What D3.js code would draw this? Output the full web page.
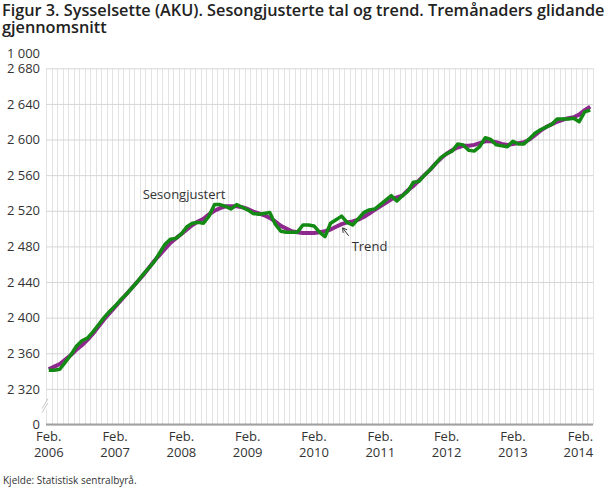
<!DOCTYPE html>
<html>
<head>
	<title>Sysselsette (AKU)</title>
	<meta charset='utf-8'>
	<style>
		body {
			margin: 0;
			background: #fff;
			font-family: 'Open Sans', sans-serif;
		}

		.title {
			font-size: 17px;
			font-weight: 600;
			fill: #222;
		}

		.tick > text {
			fill: #333;
			font-size: 13px;
		}

		.grid-v line {
			stroke: #e3e3e3;
			stroke-width: 1px;
		}

		.grid-h line {
			stroke: #d6d6d6;
			stroke-width: 1px;
		}

		.line {
			fill: none;
			stroke-linejoin: round;
		}

		.line__trend {
			stroke: #8d288d;
			stroke-width: 4px;
		}

		.line__sa {
			stroke: #138a13;
			stroke-width: 3.5px;
		}

		.label {
			font-size: 13px;
			fill: #333;
		}
	</style>
</head>
<body>

<script src='https://d3js.org/d3.v7.min.js'></script>
<script>
	'use strict';

	// Månader: feb. 2006 - apr. 2014
	const months = d3.timeMonth.range(new Date(2006, 1, 1), new Date(2014, 4, 1));

	// Sesongjusterte tal, 1 000 personar
	const sesongjustert = [
		2341, 2341, 2342, 2350, 2358, 2368, 2374, 2377, 2384, 2392,
		2400, 2407, 2413, 2420, 2426, 2433, 2440, 2448, 2455, 2462,
		2472, 2482, 2488, 2489, 2494, 2502, 2506, 2507, 2506, 2514,
		2527, 2527, 2525, 2522, 2527, 2524, 2521, 2517, 2516, 2517,
		2518, 2505, 2497, 2496, 2496, 2496, 2504, 2504, 2503, 2496,
		2491, 2506, 2510, 2514, 2507, 2504, 2511, 2518, 2521, 2522,
		2527, 2532, 2537, 2531, 2537, 2542, 2552, 2553, 2560, 2566,
		2573, 2580, 2584, 2587, 2595, 2594, 2588, 2587, 2592, 2602,
		2600, 2594, 2593, 2592, 2598, 2595, 2595, 2601, 2607, 2611,
		2614, 2617, 2623, 2623, 2623, 2624, 2620, 2631, 2633
	];

	// Trend, tremånaders glidande gjennomsnitt
	const trend = [
		2342, 2345, 2348, 2353, 2358, 2364, 2369, 2375, 2382, 2390,
		2398, 2405, 2412, 2419, 2426, 2433, 2440, 2447, 2455, 2463,
		2470, 2477, 2484, 2489, 2494, 2499, 2504, 2508, 2511, 2516,
		2520, 2523, 2525, 2525, 2525, 2524, 2522, 2519, 2517, 2515,
		2512, 2508, 2503, 2500, 2497, 2496, 2495, 2495, 2495, 2496,
		2497, 2499, 2502, 2505, 2507, 2508, 2510, 2513, 2517, 2521,
		2525, 2529, 2533, 2535, 2537, 2543, 2548, 2554, 2560, 2566,
		2573, 2579, 2584, 2588, 2591, 2593, 2593, 2594, 2596, 2598,
		2598, 2597, 2595, 2594, 2595, 2596, 2597, 2600, 2605, 2610,
		2614, 2617, 2620, 2622, 2624, 2625, 2628, 2633, 2637
	];

	const yTicks = [0, 2320, 2360, 2400, 2440, 2480, 2520, 2560, 2600, 2640, 2680];
	const xTickLabels = ['2006', '2007', '2008', '2009', '2010', '2011', '2012', '2013', '2014'];

	const W = 610;
	const H = 488;
	const plot = {left: 46, right: 593, top: 68.3, bottom: 424.5};

	const svg = d3.select('body').append('svg')
		.attr('width', W)
		.attr('height', H);

	// Tittel
	const title = svg.append('text')
		.attr('class', 'title')
		.attr('x', 2)
		.attr('y', 16);
	title.append('tspan').attr('x', 2).text('Figur 3. Sysselsette (AKU). Sesongjusterte tal og trend. Tremånaders glidande');
	title.append('tspan').attr('x', 2).attr('dy', 17).text('gjennomsnitt');

	// Strekk tittelen til same breidd som i originalen
	const titleWidth = title.select('tspan').node().getComputedTextLength();
	if (titleWidth > 0) {
		title.style('font-size', (17 * 603 / titleWidth) + 'px');
	}

	const xScale = d3.scaleBand()
		.domain(d3.range(months.length))
		.range([plot.left, plot.right])
		.padding(0);
	const xPos = function(i) {return xScale(i) + xScale.bandwidth() / 2;};

	// Broten akse: 0 rett under 2 320
	const yScale = d3.scaleLinear()
		.domain([0, 2320, 2680])
		.range([plot.bottom, plot.bottom - (plot.bottom - plot.top) / 10, plot.top]);

	// Loddrette rutenett, ein per månad
	svg.append('g')
		.attr('class', 'grid-v')
		.selectAll('line')
		.data(d3.range(months.length + 1))
		.enter()
		.append('line')
		.attr('x1', function(d) {return Math.round(plot.left + d * xScale.bandwidth()) + 0.5;})
		.attr('x2', function(d) {return Math.round(plot.left + d * xScale.bandwidth()) + 0.5;})
		.attr('y1', plot.top)
		.attr('y2', plot.bottom);

	// Vassrette rutenett og y-akse
	svg.append('g')
		.attr('class', 'grid-h')
		.attr('transform', 'translate(' + plot.left + ',0)')
		.call(d3.axisLeft(yScale)
			.tickValues(yTicks)
			.tickSize(-(plot.right - plot.left))
			.tickPadding(6)
			.tickFormat(function(d) {return d3.format(',')(d).replace(',', ' ');})
		)
		.call(function(g) {g.select('.domain').remove();})
		.call(function(g) {g.selectAll('.tick line').attr('x1', 0);})
		.call(function(g) {g.selectAll('.tick text').attr('font-family', 'Open Sans').attr('x', -6);});

	// Eining
	svg.append('text')
		.attr('class', 'label')
		.attr('x', 40)
		.attr('y', yScale(2680) - 10.5)
		.attr('text-anchor', 'end')
		.text('1 000');

	// Brotmerke
	const breakY = (yScale(0) + yScale(2320)) / 2 - 1;
	svg.append('rect')
		.attr('x', plot.left - 4)
		.attr('y', breakY - 4)
		.attr('width', 9)
		.attr('height', 7)
		.attr('fill', '#fff');
	[-2, 2].forEach(function(o) {
		svg.append('line')
			.attr('x1', plot.left - 4)
			.attr('y1', breakY + 5 + o)
			.attr('x2', plot.left + 2)
			.attr('y2', breakY - 5 + o)
			.attr('stroke', '#c8c8c8')
			.attr('stroke-width', 1);
	});

	// X-akse
	svg.append('line')
		.attr('x1', plot.left)
		.attr('x2', plot.right)
		.attr('y1', plot.bottom)
		.attr('y2', plot.bottom)
		.attr('stroke', '#a0a0a0')
		.attr('stroke-width', 2);

	const xLabels = svg.append('g')
		.selectAll('text')
		.data(xTickLabels)
		.enter()
		.append('text')
		.attr('class', 'label')
		.attr('text-anchor', function(d, i) {return i === xTickLabels.length - 1 ? 'end' : 'middle';})
		.attr('transform', function(d, i) {
			const x = xPos(i * 12) + (i === xTickLabels.length - 1 ? 14 : 0);
			return 'translate(' + x + ',' + (plot.bottom + 16) + ')';
		});
	xLabels.append('tspan').attr('x', 0).text('Feb.');
	xLabels.append('tspan').attr('x', 0).attr('dy', 16).text(function(d) {return d;});

	// Linjer
	const line = function(values) {
		return d3.line()
			.x(function(d, i) {return xPos(i);})
			.y(function(d) {return yScale(d);})(values);
	};

	svg.append('path')
		.attr('class', 'line line__trend')
		.attr('d', line(trend));

	svg.append('path')
		.attr('class', 'line line__sa')
		.attr('d', line(sesongjustert));

	// Etikettar
	svg.append('text')
		.attr('class', 'label')
		.attr('x', xPos(17))
		.attr('y', yScale(2533))
		.text('Sesongjustert');

	const trendX = xPos(55) - 1;
	const trendY = yScale(2475);
	svg.append('text')
		.attr('class', 'label')
		.attr('x', trendX)
		.attr('y', trendY)
		.text('Trend');

	svg.append('line')
		.attr('x1', trendX - 3)
		.attr('y1', trendY - 15)
		.attr('x2', trendX - 9)
		.attr('y2', trendY - 23)
		.attr('stroke', '#333')
		.attr('stroke-width', 1);
	svg.append('path')
		.attr('d', 'M' + (trendX - 9) + ',' + (trendY - 23) + 'l0.5,5 M' + (trendX - 9) + ',' + (trendY - 23) + 'l4.5,2')
		.attr('stroke', '#333')
		.attr('stroke-width', 1)
		.attr('fill', 'none');

	// Kjelde
	svg.append('text')
		.attr('x', 3)
		.attr('y', 484)
		.attr('font-size', 10)
		.attr('fill', '#333')
		.text('Kjelde: Statistisk sentralbyrå.');
</script>
</body>
</html>
